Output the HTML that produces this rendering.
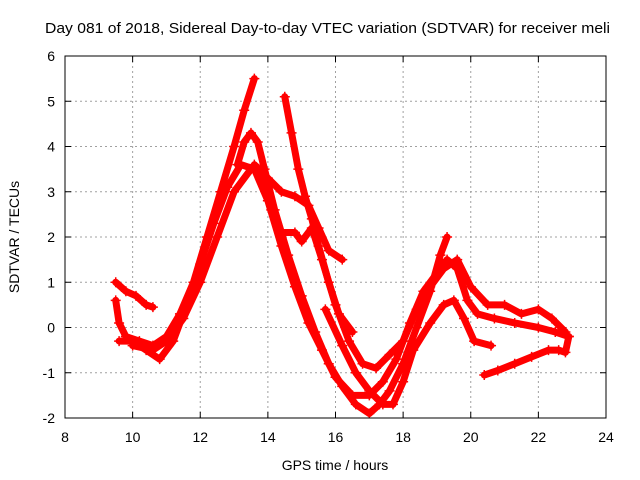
<!DOCTYPE html>
<html><head><meta charset="utf-8"><style>
body{margin:0;background:#fff;}
svg{display:block;font-family:"Liberation Sans",sans-serif;}
</style></head><body>
<svg id="c" width="640" height="480">
<text x="45" y="33" textLength="565" lengthAdjust="spacingAndGlyphs" font-size="15">Day 081 of 2018, Sidereal Day-to-day VTEC variation (SDTVAR) for receiver meli</text>
<text x="335" y="470" text-anchor="middle" font-size="14">GPS time / hours</text>
<text transform="translate(19,237) rotate(-90)" text-anchor="middle" font-size="14">SDTVAR / TECUs</text>
<g id="grid"></g><g id="marks"></g><g id="axes"></g>
</svg>
<script>
const xTicks=[8,10,12,14,16,18,20,22,24];
const yTicks=[-2,-1,0,1,2,3,4,5,6];
const track1=[[9.5,1.0],[9.8,0.8],[10.1,0.7],[10.4,0.5],[10.6,0.45]];
const track2=[[9.5,0.6],[9.6,0.1],[9.8,-0.2],[10.2,-0.3],[10.6,-0.4],[11.0,-0.2],[11.4,0.3],[11.8,1.0],[12.2,2.0],[12.6,3.0],[13.0,4.0],[13.3,4.8],[13.6,5.5]];
const track3=[[13.1,3.6],[13.3,4.1],[13.5,4.3],[13.7,4.1],[13.9,3.5],[14.2,2.6],[14.6,1.6],[15.0,0.7],[15.4,-0.1],[15.8,-0.8],[16.2,-1.3],[16.6,-1.7],[17.0,-1.9],[17.3,-1.7],[17.6,-1.4],[18.0,-0.8],[18.4,0.0],[18.8,0.8],[19.1,1.6],[19.3,2.0]];
const track4=[[9.6,-0.3],[10.0,-0.3],[10.4,-0.5],[10.8,-0.7],[11.2,-0.3],[11.6,0.5],[12.0,1.4],[12.4,2.3],[12.8,3.1],[13.2,3.6],[13.6,3.5],[14.0,2.8],[14.4,1.8],[14.8,0.9],[15.2,0.1],[15.6,-0.5],[16.0,-1.1],[16.5,-1.5],[17.0,-1.5],[17.4,-1.2],[17.8,-0.7],[18.2,0.1],[18.6,0.8],[19.0,1.2],[19.3,1.5],[19.6,1.3],[19.9,0.6],[20.2,0.3],[20.7,0.2],[21.3,0.1],[22.0,0.0],[22.5,-0.1],[22.9,-0.2]];
const track5=[[10.0,-0.4],[10.6,-0.5],[11.0,-0.3],[11.5,0.2],[12.0,1.0],[12.5,2.0],[13.0,3.0],[13.5,3.5],[13.8,3.5],[14.1,2.6],[14.4,2.1],[14.8,2.1],[15.0,1.9],[15.3,2.2],[15.6,1.5],[16.0,0.5],[16.4,-0.3],[16.8,-0.8],[17.2,-0.9],[17.6,-0.6],[18.0,-0.3],[18.4,0.4],[18.8,0.9],[19.2,1.3],[19.6,1.5],[20.0,0.9],[20.5,0.5],[21.0,0.5],[21.5,0.3],[22.0,0.4],[22.4,0.2],[22.8,-0.1]];
const track6=[[13.6,3.6],[14.0,3.3],[14.4,3.0],[14.8,2.9],[15.2,2.7],[15.5,2.2],[15.8,1.7],[16.2,1.5]];
const track7=[[14.5,5.1],[14.7,4.3],[14.9,3.5],[15.1,2.9],[15.3,2.4],[15.5,1.8],[15.8,1.0],[16.1,0.3],[16.5,-0.1]];
const track8=[[15.7,0.4],[16.2,-0.4],[16.6,-1.0],[17.0,-1.4],[17.4,-1.7],[17.7,-1.7],[18.0,-1.2],[18.3,-0.5],[18.8,0.1],[19.2,0.5],[19.5,0.6],[19.8,0.2],[20.1,-0.3],[20.6,-0.4]];
const track9=[[20.4,-1.05],[20.8,-0.95],[21.3,-0.8],[21.8,-0.65],[22.3,-0.5],[22.6,-0.5],[22.8,-0.55],[22.9,-0.2]];
const tracks=[track1,track2,track3,track4,track5,track6,track7,track8,track9];
const L=65,R=606,T=56,B=418;
const xs=h=>L+(h-8)/16*(R-L);
const ys=v=>B-(v+2)/8*(B-T);
const NS="http://www.w3.org/2000/svg";
function mk(t,a,p){const e=document.createElementNS(NS,t);for(const k in a)e.setAttribute(k,a[k]);p.appendChild(e);return e;}
const grid=document.getElementById('grid'),axes=document.getElementById('axes'),marks=document.getElementById('marks');
xTicks.forEach(t=>{const x=xs(t);
 if(t>8&&t<24){const g=mk('line',{x1:x,x2:x,y1:T,y2:B,stroke:'#a0a0a0','stroke-dasharray':'2,3'},grid);
 
 }
 mk('line',{x1:x,x2:x,y1:B,y2:B-6,stroke:'#000'},axes);
 mk('line',{x1:x,x2:x,y1:T,y2:T+6,stroke:'#000'},axes);
 const tx=mk('text',{x:x,y:B+24,'text-anchor':'middle','font-size':14},axes);tx.textContent=t;
 
 });
yTicks.forEach(t=>{const y=ys(t);
 if(t>-2&&t<6){const g=mk('line',{x1:L,x2:R,y1:y,y2:y,stroke:'#a0a0a0','stroke-dasharray':'2,3'},grid);
 
 }
 mk('line',{x1:L,x2:L+6,y1:y,y2:y,stroke:'#000'},axes);
 mk('line',{x1:R,x2:R-6,y1:y,y2:y,stroke:'#000'},axes);
 const tx=mk('text',{x:L-10,y:y+5,'text-anchor':'end','font-size':14},axes);tx.textContent=t;
 
 });
const fr=mk('rect',{x:L,y:T,width:R-L,height:B-T,fill:'none',stroke:'#000'},axes);


tracks.forEach((tr,i)=>{
 const pl=mk('polyline',{points:tr.map(p=>xs(p[0])+','+ys(p[1])).join(' '),fill:'none',stroke:'#f00','stroke-width':7,'stroke-linejoin':'round','stroke-linecap':'round'},marks);
 
 
 tr.forEach(p=>{const x=xs(p[0]),y=ys(p[1]);
  const m=mk('path',{d:`M${x-5},${y}h10M${x},${y-5}v10`,stroke:'#f00','stroke-width':1.5},marks);
  
  });
});
</script>
</body></html>
